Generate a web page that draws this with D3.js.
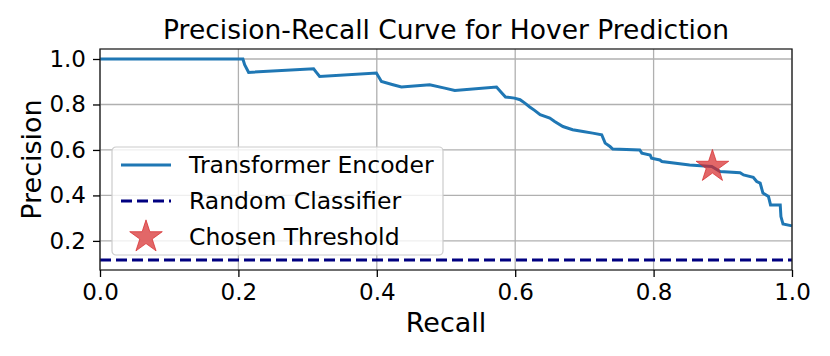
<!DOCTYPE html>
<html>
<head>
<meta charset="utf-8">
<script src="https://cdn.jsdelivr.net/npm/d3@7"></script>
<style>
  body { margin: 0; background: #fff; }
  svg { font-family: "DejaVu Sans", sans-serif; }
</style>
</head>
<body>
<div class="graphContainer"></div>
<script>
// size of the page and the axes box
const w = 830;
const h = 356;
const m = {top: 49, right: 38, bottom: 86, left: 100};

// PR curve (recall, precision)
const recall = [0, 0.2065, 0.209, 0.2148, 0.3087, 0.3127, 0.3174, 0.3994, 0.4067, 0.4234,
                0.4356, 0.4765, 0.4982, 0.5127, 0.573, 0.580, 0.586, 0.599, 0.607, 0.614,
                0.621, 0.628, 0.636, 0.650, 0.657, 0.669, 0.683, 0.698, 0.712, 0.725,
                0.730, 0.737, 0.741, 0.780, 0.783, 0.795, 0.797, 0.809, 0.812, 0.852,
                0.884, 0.896, 0.925, 0.930, 0.944, 0.949, 0.954, 0.958, 0.966, 0.969,
                0.983, 0.984, 0.987, 1.0];
const precision = [1.0, 1.0, 0.975, 0.941, 0.957, 0.941, 0.923, 0.938, 0.901, 0.887,
                   0.877, 0.887, 0.872, 0.862, 0.877, 0.853, 0.833, 0.828, 0.821, 0.806,
                   0.789, 0.774, 0.755, 0.740, 0.725, 0.703, 0.689, 0.681, 0.674, 0.667,
                   0.630, 0.615, 0.604, 0.600, 0.586, 0.578, 0.564, 0.556, 0.549, 0.534,
                   0.527, 0.505, 0.500, 0.490, 0.480, 0.461, 0.454, 0.410, 0.395, 0.358,
                   0.358, 0.307, 0.274, 0.266];

const randomLevel = 0.116;          // random classifier precision
const chosen = {recall: 0.885, precision: 0.527};

const xTicks = [0, 0.2, 0.4, 0.6, 0.8, 1.0];
const yTicks = [0.2, 0.4, 0.6, 0.8, 1.0];
const legendLabels = ["Transformer Encoder", "Random Classifier", "Chosen Threshold"];

const curveColor = "#1f77b4";
const randomColor = "#000080";
const starColor = "#d62728";

const svg = d3.select(".graphContainer").append("svg")
  .attr("width", w)
  .attr("height", h);

const xScale = d3.scaleLinear().domain([0, 1]).range([m.left, w - m.right]);
const yScale = d3.scaleLinear().domain([0.072, 1.044]).range([h - m.bottom, m.top]);

// grid
svg.append("g")
  .selectAll("line.vx")
  .data(xTicks)
  .enter().append("line")
  .attr("x1", d => xScale(d)).attr("x2", d => xScale(d))
  .attr("y1", m.top).attr("y2", h - m.bottom)
  .attr("stroke", "#b0b0b0").attr("stroke-width", 1.3);

svg.append("g")
  .selectAll("line.hy")
  .data(yTicks)
  .enter().append("line")
  .attr("x1", m.left).attr("x2", w - m.right)
  .attr("y1", d => yScale(d)).attr("y2", d => yScale(d))
  .attr("stroke", "#b0b0b0").attr("stroke-width", 1.3);

// the curve
const pts = recall.map((r, i) => [r, precision[i]]);
const line = d3.line()
  .x(d => xScale(d[0]))
  .y(d => yScale(d[1]));

svg.append("path")
  .datum(pts)
  .attr("d", line)
  .attr("fill", "none")
  .attr("stroke", curveColor)
  .attr("stroke-width", 3)
  .attr("stroke-linejoin", "miter");

// random classifier
svg.append("line")
  .attr("x1", xScale(0)).attr("x2", xScale(1))
  .attr("y1", yScale(randomLevel)).attr("y2", yScale(randomLevel))
  .attr("stroke", randomColor)
  .attr("stroke-width", 3.2)
  .attr("stroke-dasharray", "11,5");

// star
const star = d3.symbol().type(d3.symbolStar).size(330);
svg.append("path")
  .attr("d", star)
  .attr("transform", `translate(${xScale(chosen.recall)},${yScale(chosen.precision)})`)
  .attr("fill", starColor).attr("fill-opacity", 0.7)
  .attr("stroke", starColor).attr("stroke-opacity", 0.7).attr("stroke-width", 1);

// spines
svg.append("rect")
  .attr("x", m.left).attr("y", m.top)
  .attr("width", w - m.right - m.left)
  .attr("height", h - m.bottom - m.top)
  .attr("fill", "none")
  .attr("stroke", "#222")
  .attr("stroke-width", 1.3);

// axes
const xAxis = d3.axisBottom(xScale).tickValues(xTicks).tickFormat(d3.format(".1f")).tickSize(7).tickPadding(7);
const yAxis = d3.axisLeft(yScale).tickValues(yTicks).tickFormat(d3.format(".1f")).tickSize(7).tickPadding(7);

const gx = svg.append("g")
  .attr("transform", "translate(0," + (h - m.bottom) + ")")
  .call(xAxis);
const gy = svg.append("g")
  .attr("transform", "translate(" + m.left + ",0)")
  .call(yAxis);

[gx, gy].forEach(g => {
  g.select(".domain").remove();
  g.selectAll("line").attr("stroke", "#000").attr("stroke-width", 1.3);
  g.selectAll("text")
    .attr("fill", "#000")
    .style("font-size", "23px")
    .style("font-family", "DejaVu Sans");
});

// labels
svg.append("text")
  .attr("x", (m.left + w - m.right) / 2)
  .attr("y", 39)
  .attr("text-anchor", "middle")
  .style("font-size", "26.5px")
  .text("Precision-Recall Curve for Hover Prediction");

svg.append("text")
  .attr("x", (m.left + w - m.right) / 2)
  .attr("y", 332)
  .attr("text-anchor", "middle")
  .style("font-size", "27px")
  .text("Recall");

svg.append("text")
  .attr("transform", "translate(41," + ((m.top + h - m.bottom) / 2) + ") rotate(-90)")
  .attr("text-anchor", "middle")
  .style("font-size", "27px")
  .text("Precision");

// legend
const legend = svg.append("g").attr("transform", "translate(112,147)");
legend.append("rect")
  .attr("width", 331).attr("height", 108)
  .attr("rx", 4)
  .attr("fill", "#fff").attr("fill-opacity", 0.8)
  .attr("stroke", "#cccccc").attr("stroke-width", 1.2);

legend.append("line")
  .attr("x1", 9).attr("x2", 59).attr("y1", 18).attr("y2", 18)
  .attr("stroke", curveColor).attr("stroke-width", 3);
legend.append("line")
  .attr("x1", 9).attr("x2", 59).attr("y1", 54).attr("y2", 54)
  .attr("stroke", randomColor).attr("stroke-width", 3.2).attr("stroke-dasharray", "11,5");
legend.append("path")
  .attr("d", star)
  .attr("transform", "translate(34,90)")
  .attr("fill", starColor).attr("fill-opacity", 0.7)
  .attr("stroke", starColor).attr("stroke-opacity", 0.7).attr("stroke-width", 1);

legend.selectAll("text.lbl")
  .data(legendLabels)
  .enter().append("text")
  .attr("x", 77)
  .attr("y", (d, i) => 18 + i * 36)
  .attr("dy", "0.35em")
  .style("font-size", "23.5px")
  .text(d => d);
</script>
</body>
</html>
